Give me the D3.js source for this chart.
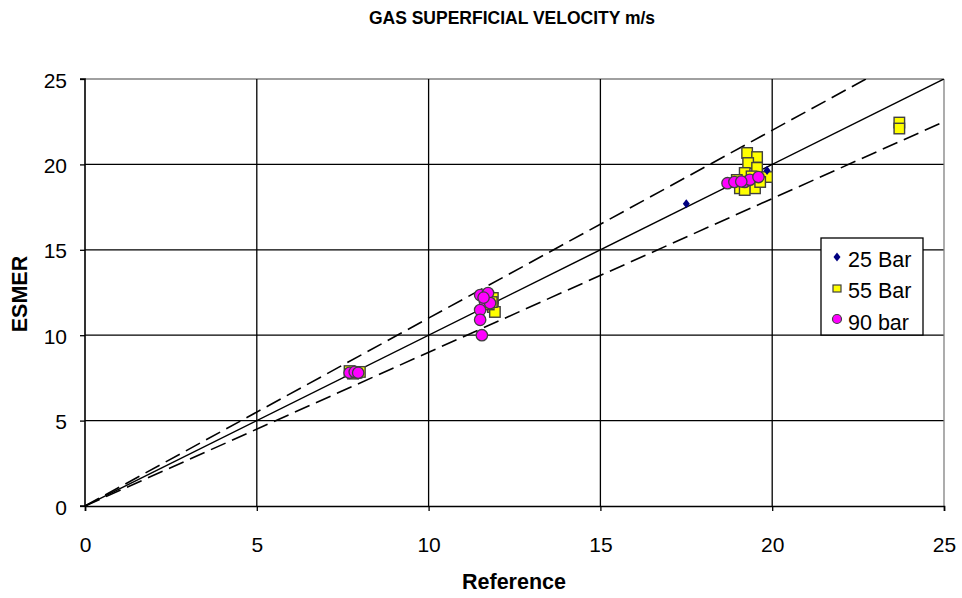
<!DOCTYPE html>
<html><head><meta charset="utf-8">
<script src="https://cdn.jsdelivr.net/npm/d3@7"></script>
<style>body{margin:0;background:#fff}svg{display:block}text{font-family:"Liberation Sans",Arial,sans-serif}</style>
</head><body><svg id="c" width="962" height="598"></svg>
<script>
const title = "GAS SUPERFICIAL VELOCITY m/s";
const xTitle = "Reference", yTitle = "ESMER";
const ticks = [0,5,10,15,20,25];
const bar25 = [[17.5,17.7],[19.85,19.65]];
const bar55 = [[7.7,7.9],[7.9,7.8],[8.0,7.85],[7.8,7.75],
  [11.87,12.18],[11.87,11.65],[11.93,11.36],[11.84,11.94],[11.75,11.8],
  [19.27,20.67],[19.56,20.43],[19.3,20.08],[19.2,19.5],[19.56,19.8],[19.85,19.26],[18.97,19.09],[19.06,18.6],[19.5,18.6],[19.2,18.5],[19.65,18.97],[19.4,19.3],
  [23.7,22.45],[23.7,22.1]];
const bar90 = [[7.7,7.8],[7.85,7.85],[7.95,7.8],
  [11.5,12.35],[11.73,12.47],[11.64,11.94],[11.5,11.47],[11.5,10.9],[11.55,10.0],[11.79,11.88],[11.6,12.2],
  [18.7,18.9],[18.9,18.97],[19.2,18.97],[19.35,19.1],[19.6,19.26],[19.1,19.0]];
const ratios = [1.0, 1.1, 0.9];
const legendLabels = ["25 Bar","55 Bar","90 bar"];

const svg = d3.select("#c");
const L=85,R=944,T=79,B=506;
const x = d3.scaleLinear().domain([0,25]).range([L,R]);
const y = d3.scaleLinear().domain([0,25]).range([B,T]);
const FONT = "Liberation Sans, Arial, sans-serif";

// grid
svg.append("g").selectAll("line").data(ticks.slice(1)).join("line")
  .attr("x1",L).attr("x2",R).attr("y1",d=>y(d)).attr("y2",d=>y(d))
  .attr("stroke",d=>d===25?"#808080":"#000").attr("stroke-width",1.3);
svg.append("g").selectAll("line").data(ticks.slice(1)).join("line")
  .attr("y1",T).attr("y2",B).attr("x1",d=>x(d)).attr("x2",d=>x(d))
  .attr("stroke",d=>d===25?"#808080":"#000").attr("stroke-width",1.3);

// axes
const xa = svg.append("g").attr("transform",`translate(0,${B})`).call(d3.axisBottom(x).tickValues(ticks).tickSize(5));
const ya = svg.append("g").attr("transform",`translate(${L},0)`).call(d3.axisLeft(y).tickValues(ticks).tickSize(5));
[xa,ya].forEach(a=>{a.select(".domain").attr("stroke","#000").attr("stroke-width",1.6);
  a.selectAll(".tick line").attr("stroke","#000").attr("stroke-width",1.3);
  a.selectAll("text").attr("font-size",21).attr("fill","#000").style("font-family",FONT);});
xa.selectAll(".tick text").attr("y",46).attr("dy",null);
ya.select(".domain").attr("d",`M-5,${B}H0V${T}H-5`);
ya.selectAll(".tick text").attr("x",-18).attr("dy",null).attr("y",8);

// reference lines
svg.append("clipPath").attr("id","pc").append("rect").attr("x",L).attr("y",T).attr("width",R-L).attr("height",B-T);
ratios.forEach((r,i)=>{
  const xe = Math.min(25, 25/r);
  svg.append("line").attr("clip-path","url(#pc)")
    .attr("x1",x(0)).attr("y1",y(0)).attr("x2",x(xe)).attr("y2",y(xe*r))
    .attr("stroke","#000").attr("stroke-width",i===0?1.5:1.6)
    .attr("stroke-dasharray",i===0?null:"16,7");
});

// markers
const sq=10.5;
svg.append("g").selectAll("rect").data(bar55).join("rect")
  .attr("x",d=>x(d[0])-sq/2).attr("y",d=>y(d[1])-sq/2).attr("width",sq).attr("height",sq)
  .attr("fill","#FFFF00").attr("stroke","#404040").attr("stroke-width",1.4);
svg.append("g").selectAll("circle").data(bar90).join("circle")
  .attr("cx",d=>x(d[0])).attr("cy",d=>y(d[1])).attr("r",5.7)
  .attr("fill","#FF00FF").attr("stroke","#404040").attr("stroke-width",1.3);
const diamond = "M0,-4.5L3.5,0L0,4.5L-3.5,0Z";
svg.append("g").selectAll("path").data(bar25).join("path")
  .attr("transform",d=>`translate(${x(d[0])},${y(d[1])})`).attr("d",diamond)
  .attr("fill","#000080");

// legend
const lg = svg.append("g");
lg.append("rect").attr("x",821).attr("y",238).attr("width",102).attr("height",97)
  .attr("fill","#fff").attr("stroke","#000").attr("stroke-width",1.3);
const base=[267,298,330];
legendLabels.forEach((t,i)=>{
  lg.append("text").attr("x",848).attr("y",base[i]).attr("font-size",21.5).text(t);
});
lg.append("path").attr("transform",`translate(837,257)`).attr("d",diamond).attr("fill","#000080");
lg.append("rect").attr("x",833).attr("y",285).attr("width",8).attr("height",7).attr("fill","#FFFF00").attr("stroke","#404040").attr("stroke-width",1.2);
lg.append("circle").attr("cx",837).attr("cy",319).attr("r",4.5).attr("fill","#FF00FF").attr("stroke","#404040").attr("stroke-width",1.2);

// titles
svg.append("text").attr("x",512).attr("y",24).attr("text-anchor","middle").attr("font-size",17.5).attr("font-weight","bold").text(title);
svg.append("text").attr("x",514).attr("y",589).attr("text-anchor","middle").attr("font-size",21.5).attr("font-weight","bold").text(xTitle);
svg.append("text").attr("transform","translate(27,294) rotate(-90)").attr("text-anchor","middle").attr("font-size",21.5).attr("font-weight","bold").text(yTitle);
</script></body></html>
